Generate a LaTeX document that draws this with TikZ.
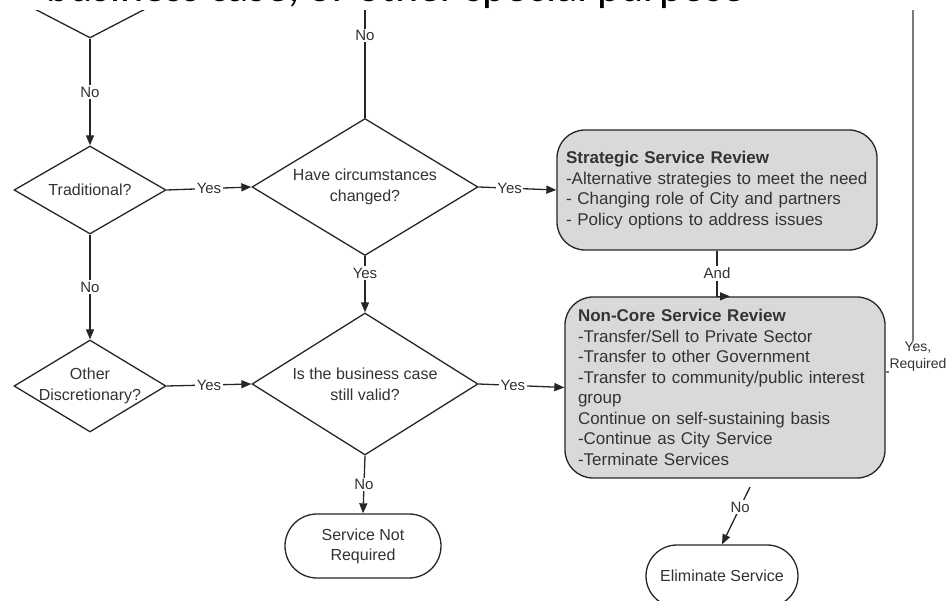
\documentclass[tikz,border=0pt]{standalone}
\usepackage{fontspec}
\setmainfont{Liberation Sans}
\newfontfamily\headfont{Carlito}
\usetikzlibrary{shapes.geometric,arrows.meta}
\definecolor{ink}{HTML}{262626}
\definecolor{txt}{HTML}{333333}
\definecolor{boxfill}{HTML}{D9D9D9}
\definecolor{sidegray}{HTML}{7A7A7A}
\tikzset{
  flow/.style={draw=ink, line width=1.3pt},
  arrow/.style={flow, -{Triangle[length=10pt,width=8pt]}},
  decision/.style={diamond, draw=ink, line width=1.3pt, inner sep=0pt, fill=white},
  dtext/.style={text=txt, font=\fontsize{16}{21}\selectfont, align=center, inner sep=0pt},
  lbl/.style={fill=white, inner sep=1.5pt, text=txt, font=\fontsize{15}{18}\selectfont},
  review/.style={rectangle, draw=ink, fill=boxfill, line width=1.3pt, rounded corners=28pt,
    align=left, text=txt, font=\fontsize{17}{20.5}\selectfont, inner ysep=0pt},
  terminal/.style={rectangle, draw=ink, line width=1.3pt, fill=white, text=txt,
    align=center, font=\fontsize{16}{20}\selectfont},
  sideline/.style={draw=sidegray, line width=2pt}
}
\begin{document}
\begin{tikzpicture}[x=1pt,y=-1pt]
\useasboundingbox (0,0) rectangle (946,601);
\clip (0,0) rectangle (946,601);

% heading line running along the top edge
\node[anchor=base east, inner sep=0pt, font=\headfont\fontsize{44}{46}\selectfont] (head)
  at (745,1.5) {business case, or other special purpose};

\begin{scope}
\clip (0,11) rectangle (946,601);

% decisions
\node[decision, minimum width=192pt, minimum height=100pt] (prev) at (90,-12) {};
\node[decision, minimum width=152pt, minimum height=88pt,
  label={[dtext]center:Traditional?}] (trad) at (90,190) {};
\node[decision, minimum width=226pt, minimum height=137pt,
  label={[dtext]center:{Have circumstances\\changed?}}] (have) at (365,187) {};
\node[decision, minimum width=152pt, minimum height=92pt,
  label={[dtext]center:{Other\\Discretionary?}}] (other) at (90,386) {};
\node[decision, minimum width=226pt, minimum height=142pt,
  label={[dtext]center:{Is the business case\\still valid?}}] (valid) at (365,384) {};

% review boxes
\node[review, minimum width=320pt, minimum height=120pt, text width=302pt, inner xsep=9pt]
  (strat) at (717,190)
  {\textbf{Strategic Service Review}\\
   -Alternative strategies to meet the need\\
   - Changing role of City and partners\\
   - Policy options to address issues};
\node[review, minimum width=320pt, minimum height=181pt, text width=294pt, inner xsep=13pt]
  (noncore) at (725,387.5)
  {\textbf{Non-Core Service Review}\\
   -Transfer/Sell to Private Sector\\
   -Transfer to other Government\\
   -Transfer to community/public interest\\
   group\\
   Continue on self-sustaining basis\\
   -Continue as City Service\\
   -Terminate Services};

% end points
\node[terminal, minimum width=156pt, minimum height=64pt, rounded corners=32pt]
  (snr) at (363,546) {Service Not\\Required};
\node[terminal, minimum width=152pt, minimum height=62pt, rounded corners=31pt]
  (elim) at (722,576) {Eliminate Service};

% connectors
\coordinate (topin) at (365,0);
\coordinate (rtop) at (913,0);
\coordinate (nostart) at (750,487);

\draw[arrow] (prev.south) -- node[lbl]{No} (trad.north);
\draw[flow] (topin) -- node[lbl, pos=0.3]{No} (have.north);
\draw[arrow] (trad.east) -- node[lbl]{Yes} (have.west);
\draw[arrow] (have.east) -- node[lbl, pos=0.4]{Yes} (strat.west);
\draw[arrow] (have.south) -- node[lbl, pos=0.3]{Yes} (valid.north);
\draw[arrow] (trad.south) -- node[lbl]{No} (other.north);
\draw[arrow] (other.east) -- node[lbl]{Yes} (valid.west);
\draw[arrow] (valid.east) -- node[lbl, pos=0.4]{Yes} (noncore.west);
\draw[arrow] (valid.south) -- node[lbl]{No} (snr.north);
\draw[arrow] (strat.south) -- node[lbl]{And} (strat.south |- noncore.north)
  -- ([xshift=5pt]noncore.north);
\draw[arrow] (nostart) -- node[lbl, pos=0.35]{No} (elim.north);
\draw[sideline] ([yshift=15.5pt]noncore.east) -| (rtop);
\node[lbl, align=center, font=\fontsize{14}{17}\selectfont, inner sep=1pt] (req)
  at (918,357) {Yes,\\Required};
\end{scope}
\end{tikzpicture}
\end{document}
